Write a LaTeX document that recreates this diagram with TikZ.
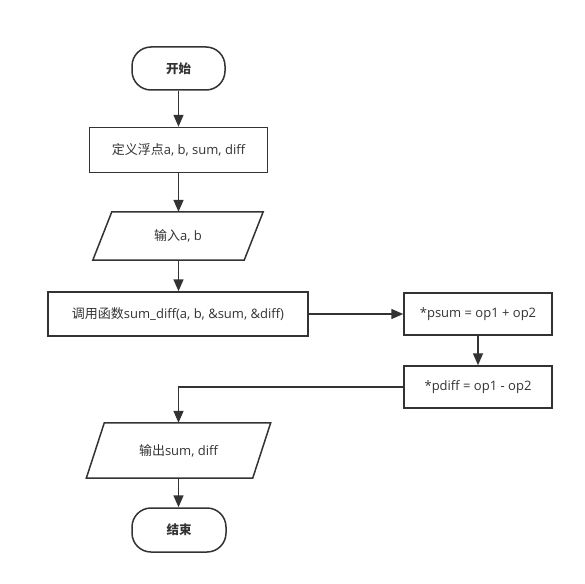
\documentclass[tikz,border=0pt]{standalone}
\usepackage{fontspec}
\setmainfont{Open Sans}
\newfontfamily\cjk{Noto Sans CJK SC}
\usetikzlibrary{arrows.meta,calc}
\definecolor{ink}{HTML}{333333}
\begin{document}
\begin{tikzpicture}[x=1pt,y=-1pt,
  every node/.style={font=\fontsize{13}{15}\selectfont, text=ink, inner sep=0pt},
  box/.style={draw=ink, line width=1.5pt, minimum width=#1, fill=white},
  term/.style={draw=ink, line width=1.5pt, rounded corners=19pt, minimum width=93pt, minimum height=43pt, font=\fontsize{12.5}{14}\selectfont\cjk\bfseries},
  iobox/.style={minimum width=#1, minimum height=48pt},
  flow/.style={draw=ink, line width=1.5pt, -{Triangle[length=12pt,width=10pt]}},
  para/.style={draw=ink, line width=1.5pt}
]
\useasboundingbox (0,0) rectangle (585,583);
\fill[white] (0,0) rectangle (585,583);

\node[term] (start) at (178.5,68.5) {开始};
\node[box=178pt, minimum height=45pt] (def) at (178.5,150) {{\cjk 定义浮点}a, b, sum, diff};
\node[iobox=151pt, minimum height=48pt] (in) at (178,236) {{\cjk 输入}a, b};
\draw[para] ($(in.north west)+(9.5,0)$) -- ($(in.north east)+(9.5,0)$) -- ($(in.south east)+(-9.5,0)$) -- ($(in.south west)+(-9.5,0)$) -- cycle;
\node[box=260pt, minimum height=44pt] (call) at (178,314) {{\cjk 调用函数}sum\_diff(a, b, \&sum, \&diff)};
\node[box=148pt, minimum height=42pt] (psum) at (478,314) {*psum = op1 + op2};
\node[box=148pt, minimum height=42pt] (pdiff) at (478,387) {*pdiff = op1 - op2};
\node[iobox=166pt, minimum height=55pt] (out) at (178.5,450.5) {{\cjk 输出}sum, diff};
\draw[para] ($(out.north west)+(9,0)$) -- ($(out.north east)+(9,0)$) -- ($(out.south east)+(-9,0)$) -- ($(out.south west)+(-9,0)$) -- cycle;
\node[term, minimum width=94pt, minimum height=44pt] (end) at (179,530) {结束};

\draw[flow] (start.south) -- (def.north);
\draw[flow] (def.south) -- (in.north -| def.south);
\draw[flow] (in.south -| def.south) -- (call.north -| def.south);
\draw[flow] (call.east) -- (psum.west);
\draw[flow] (psum.south) -- (pdiff.north);
\draw[flow] (pdiff.west) -| (out.north -| def.south);
\draw[flow] (out.south -| def.south) -- (end.north -| def.south);
\end{tikzpicture}
\end{document}
